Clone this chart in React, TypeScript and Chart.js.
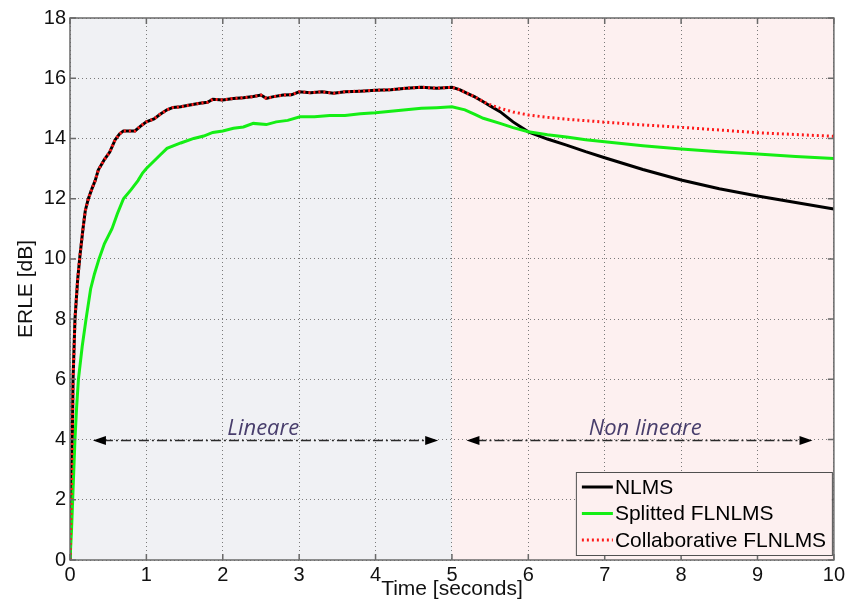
import { useEffect, useRef } from "react";
import { Chart, registerables } from "chart.js";

Chart.register(...registerables);

// ---------- data ----------
const TIME = [0, 0.015, 0.03, 0.04, 0.065, 0.1, 0.13, 0.17, 0.2, 0.24, 0.29, 0.33, 0.37, 0.45, 0.52, 0.59, 0.65, 0.7, 0.78, 0.85, 0.92, 1.0, 1.1, 1.18, 1.27, 1.35, 1.45, 1.55, 1.7, 1.8, 1.87, 2.0, 2.14, 2.27, 2.4, 2.5, 2.57, 2.65, 2.79, 2.9, 3.0, 3.15, 3.3, 3.45, 3.6, 3.8, 4.0, 4.2, 4.4, 4.6, 4.8, 5.0, 5.1, 5.2, 5.3, 5.41, 5.5, 5.63, 5.8, 6.0, 6.25, 6.5, 6.75, 7.0, 7.5, 8.0, 8.5, 9.0, 9.5, 10.0];
const NLMS = [0, 2, 4, 6, 8, 9.3, 10.1, 11.0, 11.6, 12.0, 12.35, 12.6, 12.95, 13.3, 13.55, 13.95, 14.15, 14.25, 14.25, 14.25, 14.4, 14.55, 14.65, 14.8, 14.95, 15.03, 15.05, 15.1, 15.17, 15.2, 15.3, 15.28, 15.33, 15.35, 15.39, 15.44, 15.33, 15.38, 15.44, 15.45, 15.55, 15.52, 15.55, 15.5, 15.55, 15.57, 15.6, 15.62, 15.67, 15.7, 15.67, 15.7, 15.62, 15.5, 15.38, 15.22, 15.08, 14.89, 14.55, 14.22, 13.98, 13.78, 13.56, 13.36, 12.97, 12.62, 12.33, 12.09, 11.87, 11.66];
const COLLABORATIVE = [0, 2, 4, 6, 8, 9.3, 10.1, 11.0, 11.6, 12.0, 12.35, 12.6, 12.95, 13.3, 13.55, 13.95, 14.15, 14.25, 14.25, 14.25, 14.4, 14.55, 14.65, 14.8, 14.95, 15.03, 15.05, 15.1, 15.17, 15.2, 15.3, 15.28, 15.33, 15.35, 15.39, 15.44, 15.33, 15.38, 15.44, 15.45, 15.55, 15.52, 15.55, 15.5, 15.55, 15.57, 15.6, 15.62, 15.67, 15.7, 15.67, 15.7, 15.62, 15.5, 15.38, 15.22, 15.12, 15.0, 14.88, 14.78, 14.7, 14.64, 14.59, 14.54, 14.45, 14.37, 14.28, 14.19, 14.13, 14.07];
const SPLIT_TIME = [0, 0.02, 0.035, 0.05, 0.065, 0.085, 0.11, 0.16, 0.21, 0.27, 0.32, 0.38, 0.45, 0.55, 0.62, 0.7, 0.8, 0.89, 0.95, 1.0, 1.1, 1.18, 1.27, 1.45, 1.62, 1.75, 1.87, 2.0, 2.14, 2.27, 2.4, 2.57, 2.7, 2.85, 3.01, 3.2, 3.4, 3.6, 3.8, 4.0, 4.2, 4.4, 4.6, 4.8, 5.0, 5.17, 5.3, 5.41, 5.63, 5.8, 6.0, 6.25, 6.5, 6.75, 7.0, 7.5, 8.0, 8.5, 9.0, 9.5, 10.0];
const SPLITTED = [0, 1, 2, 3, 4, 5, 6, 7.1, 8, 9, 9.5, 10, 10.5, 11, 11.5, 12, 12.3, 12.6, 12.85, 13.0, 13.25, 13.45, 13.67, 13.85, 14.0, 14.08, 14.2, 14.25, 14.34, 14.38, 14.5, 14.46, 14.55, 14.6, 14.72, 14.72, 14.76, 14.76, 14.82, 14.85, 14.9, 14.95, 15.0, 15.02, 15.05, 14.95, 14.8, 14.67, 14.5, 14.36, 14.22, 14.12, 14.05, 13.96, 13.89, 13.76, 13.65, 13.56, 13.48, 13.4, 13.33];

const SERIES_LABELS = ["NLMS", "Splitted FLNLMS", "Collaborative FLNLMS"];
const X_LABEL = "Time [seconds]";
const Y_LABEL = "ERLE [dB]";
const X_RANGE = [0, 10];
const Y_RANGE = [0, 18];
const REGION_SPLIT = 5;
// region annotations (data units)
const REGION_LABELS = ["Lineare", "Non lineare"];
const ARROW_FROM = [0.3, 5.19];
const ARROW_TO = [4.82, 9.72];
const ARROW_Y = 4;
const LABEL_X = [2.53, 7.53];

const FONT = "'Liberation Sans', Arial, sans-serif";

const zip = (t: number[], v: number[]) => t.map((x, i) => ({ x, y: v[i] }));

const decor = {
  id: "decor",
  beforeDraw(chart: any) {
    const { ctx, chartArea, scales } = chart;
    const { left, right, top, bottom } = chartArea;
    const xm = scales.x.getPixelForValue(REGION_SPLIT);
    ctx.save();
    ctx.fillStyle = "#f0f1f4";
    ctx.fillRect(left, top, xm - left, bottom - top);
    ctx.fillStyle = "#fdf0f0";
    ctx.fillRect(xm, top, right - xm, bottom - top);
    ctx.restore();
  },
  afterDatasetsDraw(chart: any) {
    const { ctx, chartArea, scales } = chart;
    const { left, right, top, bottom } = chartArea;
    const xs = scales.x, ys = scales.y;
    ctx.save();
    // arrows
    for (let k = 0; k < 2; k++) {
      const x1 = xs.getPixelForValue(ARROW_FROM[k]);
      const x2 = xs.getPixelForValue(ARROW_TO[k]);
      const y = Math.round(ys.getPixelForValue(ARROW_Y)) + 0.5;
      ctx.strokeStyle = "#2a2a2a";
      ctx.lineWidth = 1.3;
      ctx.setLineDash([10, 3, 2, 3]);
      ctx.beginPath();
      ctx.moveTo(x1 + 10, y);
      ctx.lineTo(x2 - 10, y);
      ctx.stroke();
      ctx.setLineDash([]);
      ctx.fillStyle = "#000";
      ctx.beginPath();
      ctx.moveTo(x1, y);
      ctx.lineTo(x1 + 13, y - 4.5);
      ctx.lineTo(x1 + 13, y + 4.5);
      ctx.closePath();
      ctx.fill();
      ctx.beginPath();
      ctx.moveTo(x2, y);
      ctx.lineTo(x2 - 13, y - 4.5);
      ctx.lineTo(x2 - 13, y + 4.5);
      ctx.closePath();
      ctx.fill();
      ctx.fillStyle = "#483e6c";
      ctx.font = "italic 22px 'Open Sans', sans-serif";
      ctx.textAlign = "center";
      ctx.textBaseline = "alphabetic";
      ctx.fillText(REGION_LABELS[k], xs.getPixelForValue(LABEL_X[k]), y - 6);
    }
    // frame
    ctx.strokeStyle = "#6a6a6a";
    ctx.lineWidth = 1.5;
    ctx.strokeRect(left, top, right - left, bottom - top);
    // inward ticks
    ctx.beginPath();
    xs.ticks.forEach((t: any) => {
      const px = xs.getPixelForValue(t.value);
      ctx.moveTo(px, bottom); ctx.lineTo(px, bottom - 6);
      ctx.moveTo(px, top); ctx.lineTo(px, top + 6);
    });
    ys.ticks.forEach((t: any) => {
      const py = ys.getPixelForValue(t.value);
      ctx.moveTo(left, py); ctx.lineTo(left + 6, py);
      ctx.moveTo(right, py); ctx.lineTo(right - 6, py);
    });
    ctx.stroke();
    // legend
    const bw = 256, bh = 83;
    const bx = right - 2 - bw, by = bottom - 5 - bh;
    ctx.fillStyle = "#fdf0f0";
    ctx.fillRect(bx, by, bw, bh);
    ctx.strokeStyle = "#505050";
    ctx.lineWidth = 1;
    ctx.strokeRect(bx + 0.5, by + 0.5, bw, bh);
    ctx.font = `21px ${FONT}`;
    ctx.textAlign = "left";
    ctx.textBaseline = "middle";
    chart.data.datasets.forEach((ds: any, i: number) => {
      const cy = by + 15 + i * 26.5;
      ctx.strokeStyle = ds.borderColor;
      ctx.lineWidth = ds.borderWidth;
      ctx.setLineDash(ds.borderDash || []);
      ctx.beginPath();
      ctx.moveTo(bx + 6, cy);
      ctx.lineTo(bx + 37, cy);
      ctx.stroke();
      ctx.setLineDash([]);
      ctx.fillStyle = "#000";
      ctx.fillText(ds.label, bx + 39, cy + 1);
    });
    // axis titles
    ctx.fillStyle = "#111";
    ctx.font = `21px ${FONT}`;
    ctx.textAlign = "center";
    ctx.textBaseline = "alphabetic";
    ctx.fillText(X_LABEL, (left + right) / 2, 595);
    ctx.translate(32, (top + bottom) / 2);
    ctx.rotate(-Math.PI / 2);
    ctx.fillText(Y_LABEL, 0, 0);
    ctx.restore();
  },
};

export default function App() {
  const ref = useRef<HTMLCanvasElement | null>(null);
  useEffect(() => {
    document.body.style.margin = "0";
    const chart = new Chart(ref.current as HTMLCanvasElement, {
      type: "line",
      data: {
        datasets: [
          { label: SERIES_LABELS[0], data: zip(TIME, NLMS), borderColor: "#000000", borderWidth: 3, pointRadius: 0, tension: 0, order: 2 },
          { label: SERIES_LABELS[1], data: zip(SPLIT_TIME, SPLITTED), borderColor: "#14ee14", borderWidth: 3, pointRadius: 0, tension: 0, order: 1 },
          { label: SERIES_LABELS[2], data: zip(TIME, COLLABORATIVE), borderColor: "#ff1a1a", borderWidth: 3, borderDash: [2, 3], pointRadius: 0, tension: 0, order: 0 },
        ] as any,
      },
      options: {
        animation: false,
        responsive: false,
        devicePixelRatio: 1,
        layout: { padding: { top: 18, right: 14, left: 0, bottom: 0 } },
        plugins: { legend: { display: false }, tooltip: { enabled: false } },
        scales: {
          x: {
            type: "linear",
            min: X_RANGE[0],
            max: X_RANGE[1],
            afterFit: (s: any) => { s.height = 45; },
            ticks: { stepSize: 1, padding: 3, color: "#111", font: { family: FONT, size: 20 }, maxRotation: 0 },
            grid: { color: "#7a7a7a", lineWidth: 1, drawTicks: false },
            border: { display: false, dash: [1, 3] },
          },
          y: {
            type: "linear",
            min: Y_RANGE[0],
            max: Y_RANGE[1],
            afterFit: (s: any) => { s.width = 70; },
            ticks: { stepSize: 2, padding: 4, color: "#111", font: { family: FONT, size: 20 } },
            grid: { color: "#7a7a7a", lineWidth: 1, drawTicks: false },
            border: { display: false, dash: [1, 3] },
          },
        },
      } as any,
      plugins: [decor],
    });
    return () => chart.destroy();
  }, []);
  return (
    <div style={{ position: "absolute", left: 0, top: 0, width: 848, height: 605, background: "#fff" }}>
      <canvas ref={ref} width={848} height={605} />
    </div>
  );
}
